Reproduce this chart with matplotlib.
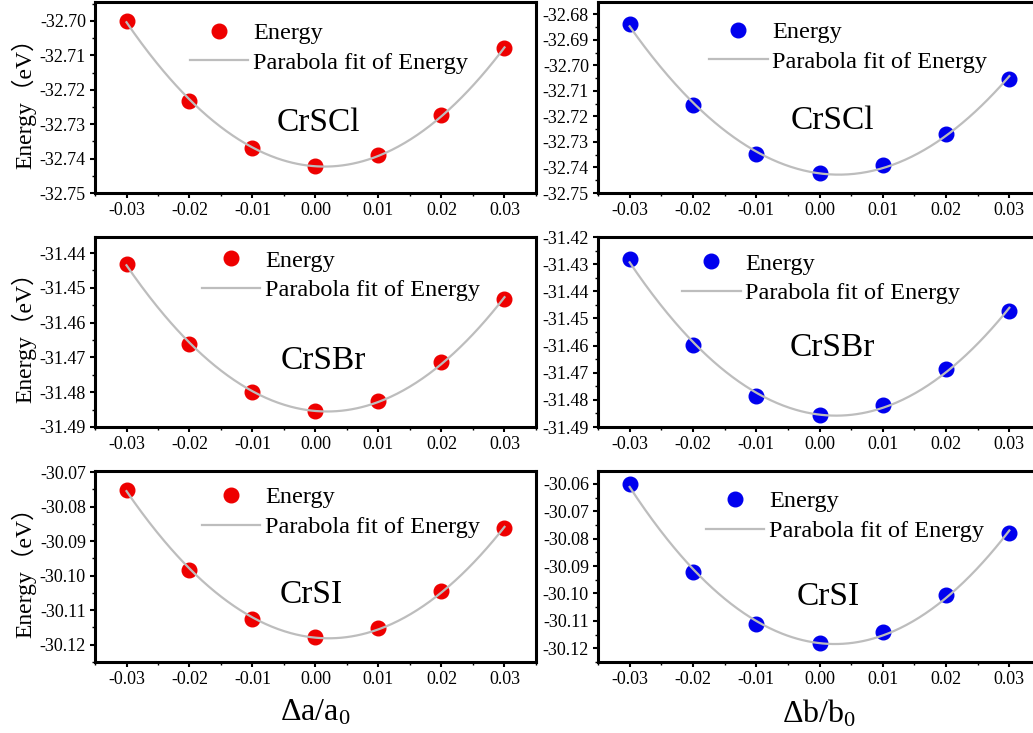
import numpy as np
import matplotlib
matplotlib.use("Agg")
import matplotlib.pyplot as plt
from matplotlib.ticker import MultipleLocator, FormatStrFormatter

plt.rcParams['font.family'] = ['Liberation Serif', 'Noto Sans CJK SC', 'DejaVu Sans']
plt.rcParams['mathtext.fontset'] = 'custom'
plt.rcParams['mathtext.rm'] = 'Liberation Serif'
plt.rcParams['mathtext.default'] = 'regular'

# ---- data ----
strain = [-0.03, -0.02, -0.01, 0.00, 0.01, 0.02, 0.03]
materials = ["CrSCl", "CrSBr", "CrSI"]

crscl_a = [-32.7000, -32.7233, -32.7370, -32.7422, -32.7389, -32.7274, -32.7080]
crscl_b = [-32.6837, -32.7156, -32.7348, -32.7423, -32.7391, -32.7267, -32.7052]
crsbr_a = [-31.4432, -31.4661, -31.4800, -31.4855, -31.4825, -31.4714, -31.4531]
crsbr_b = [-31.4282, -31.4598, -31.4784, -31.4855, -31.4818, -31.4687, -31.4472]
crsi_a = [-30.0751, -30.0984, -30.1125, -30.1179, -30.1152, -30.1044, -30.0863]
crsi_b = [-30.0600, -30.0922, -30.1111, -30.1180, -30.1142, -30.1007, -30.0780]

xtick_vals = [-0.03, -0.02, -0.01, 0.00, 0.01, 0.02, 0.03]
xlabels = ["Δa/a$_0$", "Δb/b$_0$"]
ylabel = "Energy（eV）"
legend_labels = ["Energy", "Parabola fit of Energy"]

series = [[crscl_a, crscl_b], [crsbr_a, crsbr_b], [crsi_a, crsi_b]]

# ---- layout / style ----
W, H = 1033, 733
fig = plt.figure(figsize=(W / 100, H / 100), dpi=100)

col_px = [(95, 536), (598, 1041)]
row_px = [(2, 193), (237, 427), (471, 662)]
ylims = [[(-32.75, -32.6945), (-32.75, -32.6752)],
         [(-31.49, -31.4354), (-31.49, -31.42)],
         [(-30.125, -30.0697), (-30.125, -30.0553)]]
yticks_range = [[(-32.75, -32.70), (-32.75, -32.68)],
                [(-31.49, -31.44), (-31.49, -31.42)],
                [(-30.12, -30.07), (-30.12, -30.06)]]
legend_anchor = [[(0.215, 0.893), (0.251, 0.899)],
                 [(0.243, 0.934), (0.190, 0.918)],
                 [(0.243, 0.919), (0.244, 0.898)]]
name_pos = [[(0.506, 0.37), (0.53, 0.38)],
            [(0.517, 0.35), (0.528, 0.415)],
            [(0.49, 0.35), (0.52, 0.34)]]
colors = ['#ee0000', '#0000ee']
fit_color = '#bdbdbd'

for r in range(3):
    for c in range(2):
        x0, x1 = col_px[c]
        y0, y1 = row_px[r]
        ax = fig.add_axes([x0 / W, 1 - y1 / H, (x1 - x0) / W, (y1 - y0) / H])
        y = np.array(series[r][c])
        x = np.array(strain)
        coef = np.polyfit(x, y, 2)
        xf = np.linspace(min(strain), max(strain), 300)
        yf = np.polyval(coef, xf)
        ax.plot(x, y, 'o', color=colors[c], markersize=10.5, zorder=2,
                label=legend_labels[0], linestyle='none')
        ax.plot(xf, yf, '-', color=fit_color, lw=1.6, zorder=3,
                label=legend_labels[1])
        ax.set_xlim(-0.035, 0.035)
        ax.set_ylim(*ylims[r][c])
        ax.set_xticks(xtick_vals)
        ax.xaxis.set_major_formatter(FormatStrFormatter('%.2f'))
        ax.xaxis.set_minor_locator(MultipleLocator(0.005))
        lo, hi = yticks_range[r][c]
        n = int(round((hi - lo) / 0.01))
        ax.set_yticks([lo + 0.01 * i for i in range(n + 1)])
        ax.yaxis.set_major_formatter(FormatStrFormatter('%.2f'))
        ax.yaxis.set_minor_locator(MultipleLocator(0.005))
        ax.tick_params(axis='both', which='major', direction='out', length=3.5,
                       width=1.5, labelsize=13, pad=3)
        ax.tick_params(axis='both', which='minor', direction='out', length=2,
                       width=1.0)
        for s in ax.spines.values():
            s.set_linewidth(2.2)
        lx, ly = legend_anchor[r][c]
        ax.legend(loc='upper left', bbox_to_anchor=(lx, ly), frameon=False,
                  fontsize=17.5, borderpad=0, borderaxespad=0, handlelength=2.4,
                  handletextpad=0.2, labelspacing=0.31)
        nx, ny = name_pos[r][c]
        ax.text(nx, ny, materials[r], transform=ax.transAxes, fontsize=24,
                ha='center', va='center')
        if c == 0:
            ax.set_ylabel(ylabel, fontsize=17)
            ax.yaxis.set_label_coords((36 - x0) / (x1 - x0), 0.5)
        if r == 2:
            ax.set_xlabel(xlabels[c], fontsize=23, labelpad=7)

fig.savefig("out.png", dpi=100)
